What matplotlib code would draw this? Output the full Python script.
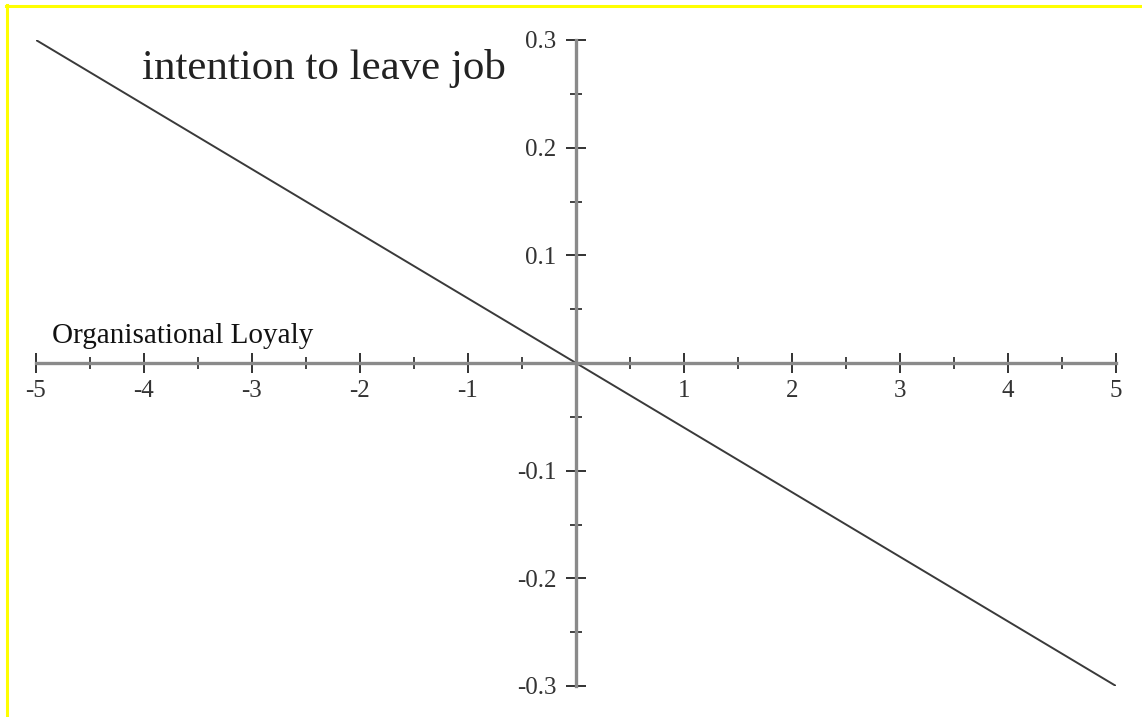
import matplotlib.pyplot as plt
from matplotlib.lines import Line2D

# loyalty score vs. predicted intention to leave
loyalty = [-5, 5]
intention = [0.3, -0.3]

x_major = [-5, -4, -3, -2, -1, 1, 2, 3, 4, 5]
x_minor = [-4.5, -3.5, -2.5, -1.5, -0.5, 0.5, 1.5, 2.5, 3.5, 4.5]
y_major = [-0.3, -0.2, -0.1, 0.1, 0.2, 0.3]
y_minor = [-0.25, -0.15, -0.05, 0.05, 0.15, 0.25]

W, H = 1142, 717
fig = plt.figure(figsize=(W / 100, H / 100), dpi=100)
plt.rcParams['font.family'] = ['Liberation Serif', 'DejaVu Serif']

# axes placed so the zero lines cross in the middle
ax = fig.add_axes([36 / W, (H - 686) / H, 1080 / W, 646 / H])
ax.set_xlim(-5, 5)
ax.set_ylim(-0.3, 0.3)
ax.patch.set_alpha(0)

ax.plot(loyalty, intention, color='#3a3a3a', lw=1.4, solid_capstyle='butt')

for s in ['top', 'right']:
    ax.spines[s].set_visible(False)
ax.spines['left'].set_position('zero')
ax.spines['bottom'].set_position('zero')
for s in ['left', 'bottom']:
    ax.spines[s].set_color('#8a8a8a')
    ax.spines[s].set_linewidth(2.4)

ax.set_xticks(x_major)
ax.set_xticklabels([str(v) for v in x_major])
ax.set_xticks(x_minor, minor=True)
ax.set_yticks(y_major)
ax.set_yticklabels([f'{v:.1f}' for v in y_major])
ax.set_yticks(y_minor, minor=True)

ax.tick_params(which='major', direction='inout', length=14.5, width=1.3,
               color='#222222', labelsize=18, labelcolor='#333333')
ax.tick_params(axis='x', which='major', pad=5)
ax.tick_params(axis='y', which='major', pad=7)
ax.tick_params(which='minor', direction='inout', length=8, width=1.2,
               color='#222222')

fig.text(142 / W, 1 - 79 / H, 'intention to leave job', fontsize=31,
         color='#222222', va='baseline', ha='left')
fig.text(52 / W, 1 - 343 / H, 'Organisational Loyaly', fontsize=21,
         color='#111111', va='baseline', ha='left')

# yellow frame along the top and left edges
fig.add_artist(Line2D([6 / W, 1], [1 - 6 / H, 1 - 6 / H], color='#ffff00',
                      lw=2.2, transform=fig.transFigure))
fig.add_artist(Line2D([7 / W, 7 / W], [0, 1 - 5 / H], color='#ffff00',
                      lw=2.2, transform=fig.transFigure))

fig.savefig('out.png', dpi=100)
